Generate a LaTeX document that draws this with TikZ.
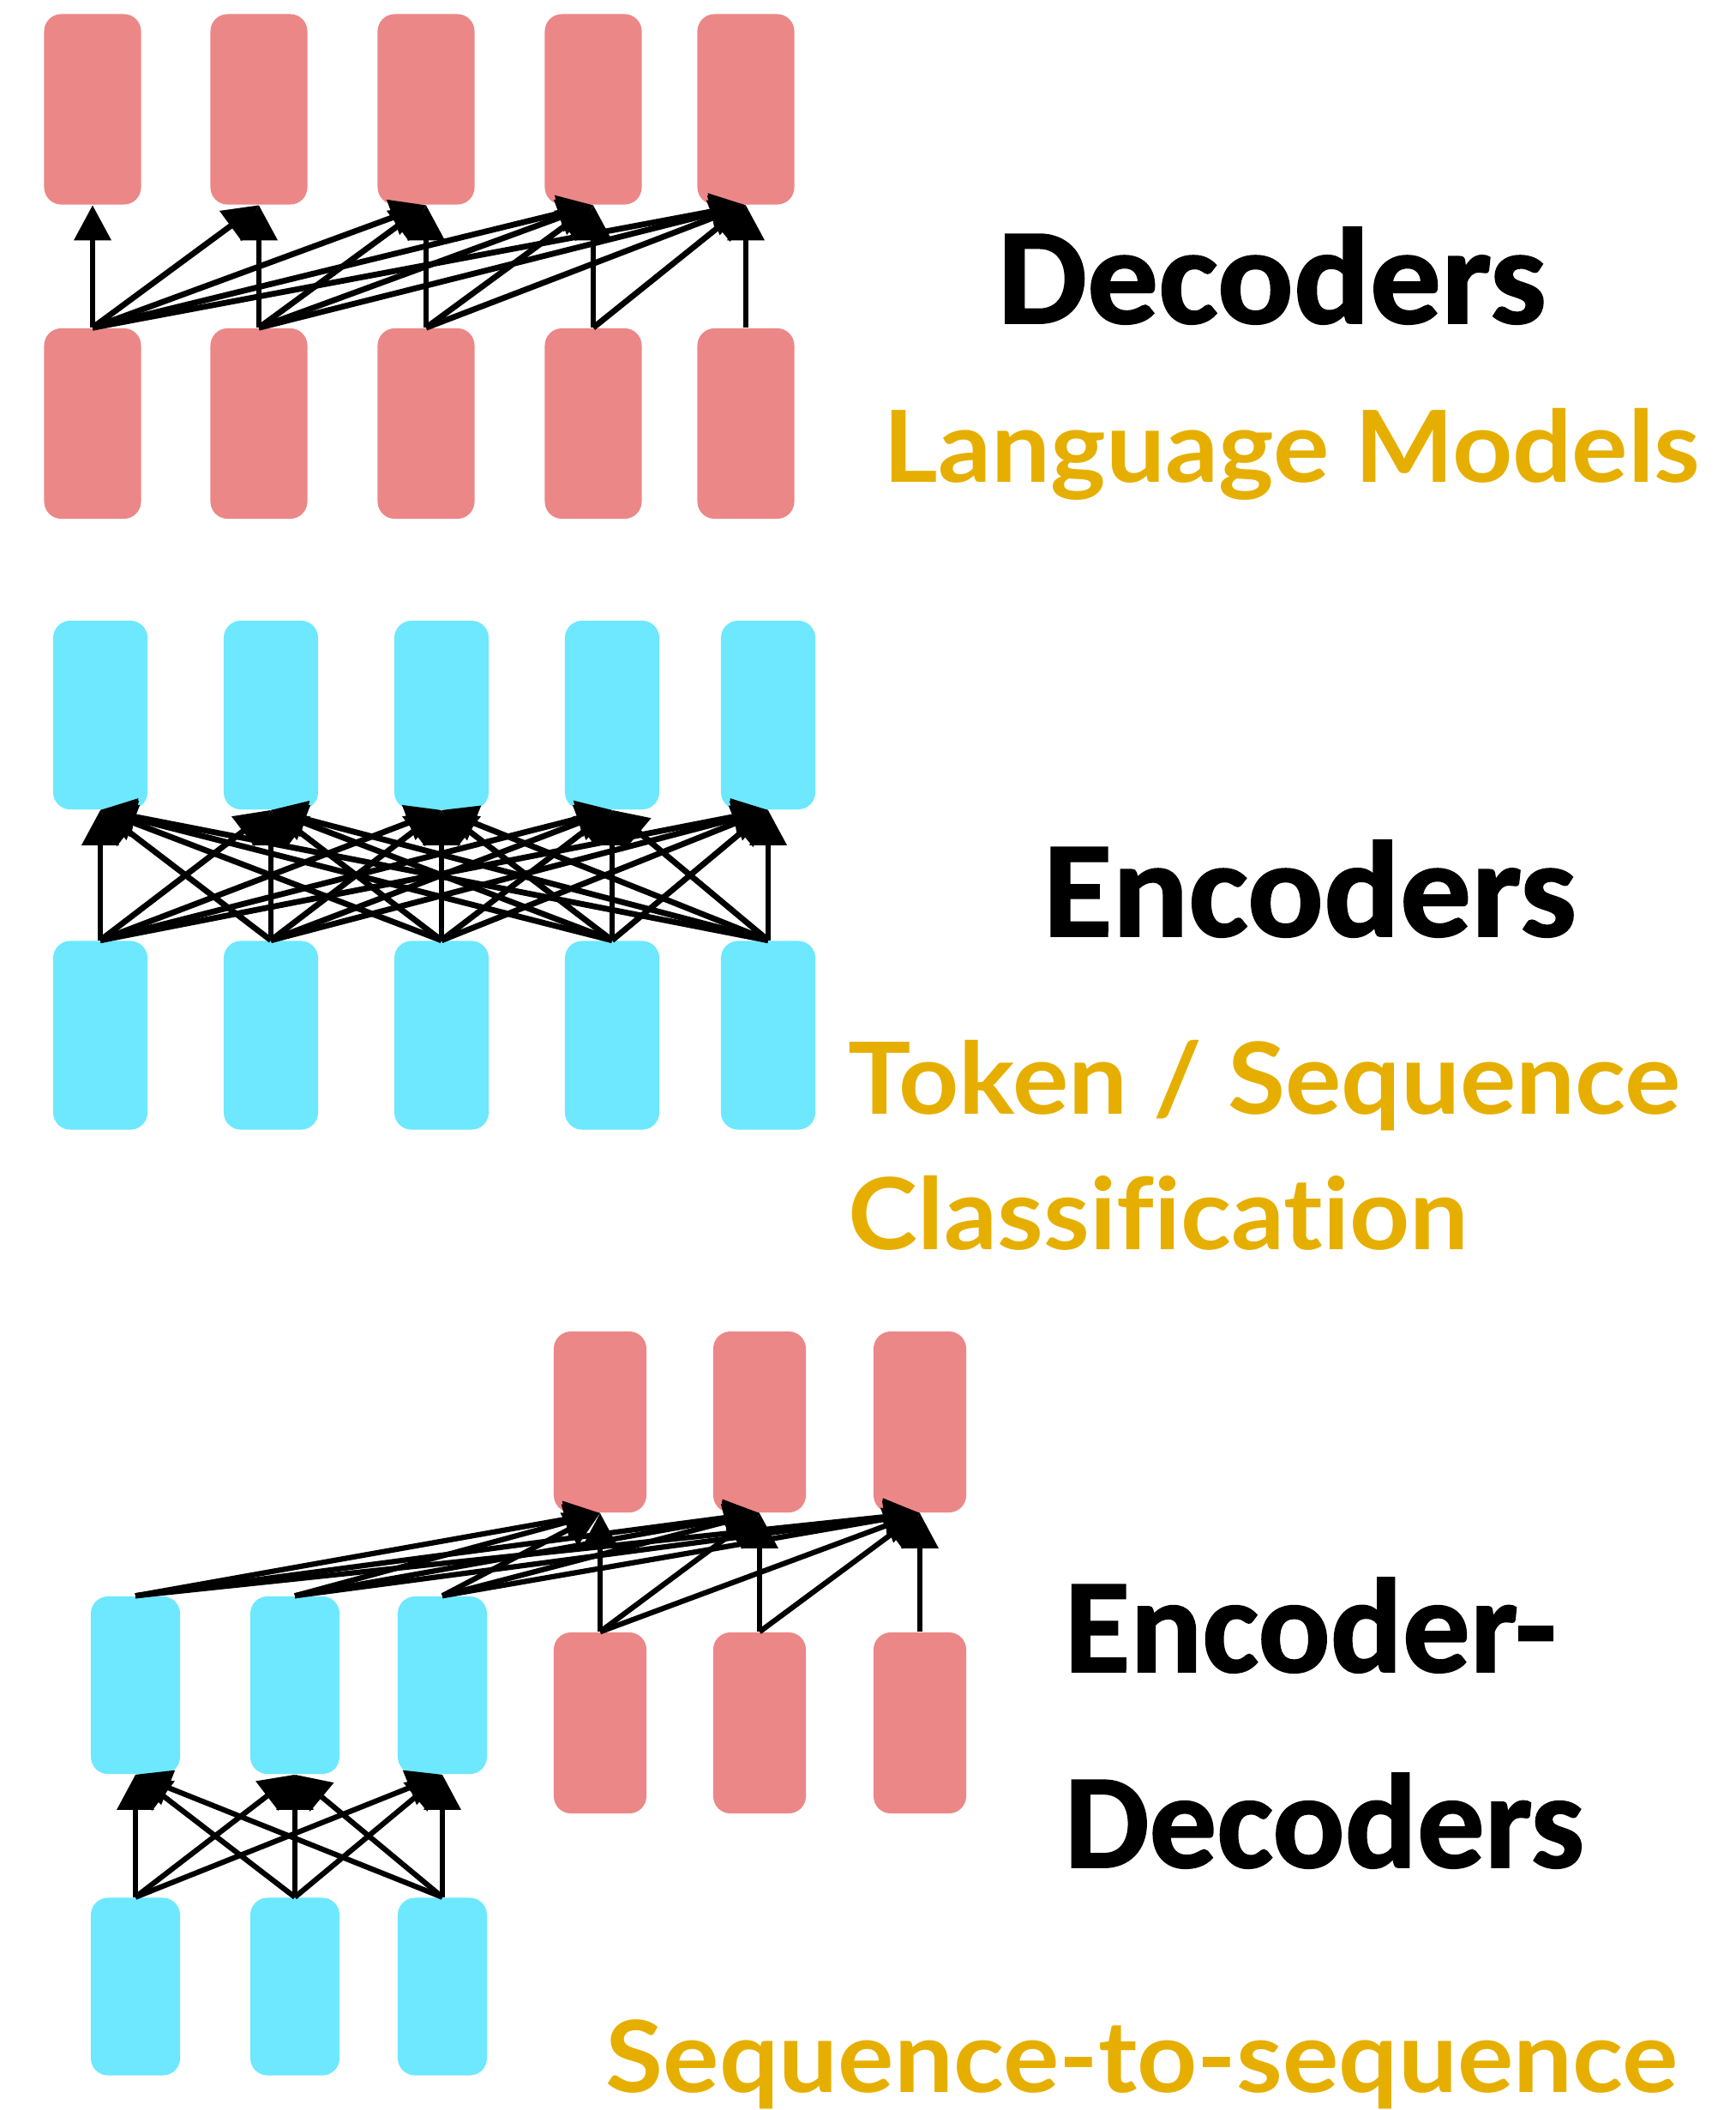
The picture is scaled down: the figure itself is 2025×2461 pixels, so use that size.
\documentclass[tikz,border=0pt]{standalone}
\usepackage{fontspec}
\usetikzlibrary{arrows.meta}
\newfontfamily\headfont{Carlito}[FakeBold=1.2]
\newfontfamily\headwidefont{Carlito}[FakeBold=1.2, FakeStretch=1.035]
\newfontfamily\taskfont{Lato}[FakeStretch=1.055, Ligatures=NoCommon]
\definecolor{decpink}{HTML}{EC8787}
\definecolor{enccyan}{HTML}{6DE8FE}
\definecolor{taskgold}{HTML}{E6AF00}
\tikzset{
  blk/.style n args={3}{fill=#1, draw=none, rounded corners=0.2cm, inner sep=0pt,
    minimum width=#2, minimum height=#3},
  link/.style={line width=0.068cm, -{Triangle[length=0.41cm,width=0.42cm]}},
  hd/.style={font=\headfont\bfseries\fontsize{44.6pt}{50pt}\selectfont, inner sep=0pt, anchor=base west},
  hdwide/.style={font=\headwidefont\bfseries\fontsize{45.5pt}{50pt}\selectfont, inner sep=0pt, anchor=base west},
  task/.style={font=\taskfont\bfseries\fontsize{33pt}{38pt}\selectfont, text=taskgold, inner sep=0pt, anchor=base west}
}
\begin{document}
\begin{tikzpicture}[x=0.01cm, y=-0.01cm]
\useasboundingbox (0,0) rectangle (2025,2461);

% ---- decoder-only stack: causal connections ----
\foreach \i/\x in {1/108,2/302,3/497,4/692,5/870} {
  \node[blk={decpink}{1.13cm}{2.22cm}] (dt\i) at (\x,127.5) {};
  \node[blk={decpink}{1.13cm}{2.22cm}] (db\i) at (\x,494) {};
}
\foreach \i in {1,...,5}
  \foreach \j in {\i,...,5}
    \draw[link] (db\i.north) -- (dt\j.south);

% ---- encoder-only stack: full connections ----
\foreach \i/\x in {1/117,2/316,3/515,4/714,5/896} {
  \node[blk={enccyan}{1.10cm}{2.20cm}] (et\i) at (\x,834) {};
  \node[blk={enccyan}{1.10cm}{2.20cm}] (eb\i) at (\x,1207.5) {};
}
\foreach \i in {1,...,5}
  \foreach \j in {1,...,5}
    \draw[link] (eb\i.north) -- (et\j.south);

% ---- encoder-decoder ----
\foreach \i/\x in {1/158,2/344,3/516} {
  \node[blk={enccyan}{1.04cm}{2.07cm}] (st\i) at (\x,1965.5) {};
  \node[blk={enccyan}{1.04cm}{2.07cm}] (sb\i) at (\x,2317) {};
}
\foreach \i/\x in {1/700,2/886,3/1073} {
  \node[blk={decpink}{1.08cm}{2.11cm}] (rt\i) at (\x,1658.5) {};
  \node[blk={decpink}{1.08cm}{2.11cm}] (rb\i) at (\x,2009.5) {};
}
\begin{scope}[link/.append style={line width=0.062cm}]
\foreach \i in {1,2,3}
  \foreach \j in {1,2,3} {
    \draw[link] (sb\i.north) -- (st\j.south);
    \draw[link] (st\i.north) -- (rt\j.south);
  }
\foreach \i in {1,2,3}
  \foreach \j in {\i,...,3}
    \draw[link] (rb\i.north) -- (rt\j.south);
\end{scope}

% ---- labels ----
\node[hdwide] (tdec) at (1163,377) {Decoders};
\node[task] (tlm) at (1030,562) {Language Models};
\node[hdwide] (tenc) at (1216,1092) {Encoders};
\node[task] (ttok) at (989,1299) {Token / Sequence};
\node[task] (tcls) at (989,1457) {Classification};
\node[hd] (ted1) at (1241,1950) {Encoder-};
\node[hd] (ted2) at (1241,2178) {Decoders};
\node[task] (ts2s) at (706,2440) {Sequence-to-sequence};
\end{tikzpicture}
\end{document}
